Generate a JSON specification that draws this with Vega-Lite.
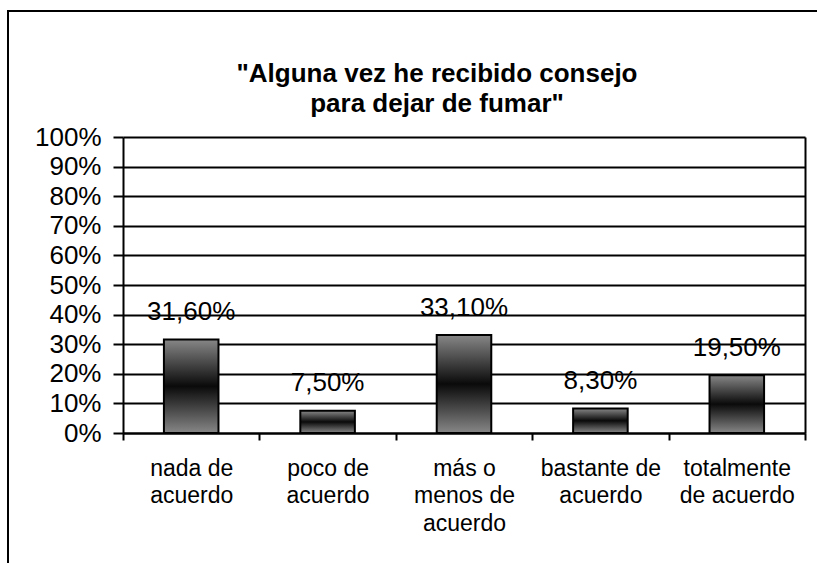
{
  "$schema": "https://vega.github.io/schema/vega-lite/v6.json",
  "width": 812,
  "height": 556,
  "autosize": {"type": "none"},
  "padding": {"left": 8, "top": 11, "right": 0, "bottom": 0},
  "background": "white",
  "config": {
    "locale": {"number": {"decimal": ",", "thousands": ".", "grouping": [3], "currency": ["", " €"]}},
    "font": "Liberation Sans",
    "view": {"stroke": "black", "strokeWidth": 2},
    "axis": {
      "domainColor": "black", "domainWidth": 2,
      "tickColor": "black", "tickWidth": 2,
      "labelColor": "black", "labelFont": "Liberation Sans"
    }
  },
  "title": {
    "text": ["\"Alguna vez he recibido consejo", "para dejar de fumar\""],
    "font": "Liberation Sans", "fontSize": 26, "fontWeight": "bold", "color": "black",
    "anchor": "middle", "frame": "group", "baseline": "top", "lineHeight": 30,
    "offset": 0, "dy": 106, "dx": 23
  },
  "data": {
    "values": [
      {"categoria": "nada de acuerdo", "valor": 0.316},
      {"categoria": "poco de acuerdo", "valor": 0.075},
      {"categoria": "más o menos de acuerdo", "valor": 0.331},
      {"categoria": "bastante de acuerdo", "valor": 0.083},
      {"categoria": "totalmente de acuerdo", "valor": 0.195}
    ]
  },
  "encoding": {
    "x": {
      "field": "categoria", "type": "nominal", "sort": null,
      "scale": {"range": [115, 797], "paddingInner": 0, "paddingOuter": 0},
      "axis": {
        "title": null, "orient": "bottom", "offset": -134,
        "tickBand": "extent", "tickSize": 7, "grid": false,
        "labelAngle": 0, "labelFontSize": 23, "labelLineHeight": 27.5,
        "labelPadding": 17, "labelBaseline": "top", "labelOverlap": false, "labelLimit": 300,
        "labelExpr": "!datum.value ? '' : datum.value == 'más o menos de acuerdo' ? ['más o', 'menos de', 'acuerdo'] : datum.value == 'totalmente de acuerdo' ? ['totalmente', 'de acuerdo'] : [replace(datum.value, ' acuerdo', ''), 'acuerdo']"
      }
    }
  },
  "layer": [
    {
      "mark": {
        "type": "bar", "width": {"band": 0.4},
        "fill": {
          "gradient": "linear", "x1": 0, "y1": 0, "x2": 0, "y2": 1,
          "stops": [
            {"offset": 0, "color": "#878787"},
            {"offset": 0.5, "color": "#0a0a0a"},
            {"offset": 1, "color": "#878787"}
          ]
        },
        "stroke": "black", "strokeWidth": 2
      },
      "encoding": {
        "y": {
          "field": "valor", "type": "quantitative",
          "scale": {"domain": [0, 1], "range": [422, 126], "nice": false, "zero": true},
          "axis": {
            "title": null, "orient": "left", "offset": -115,
            "values": [0, 0.1, 0.2, 0.3, 0.4, 0.5, 0.6, 0.7, 0.8, 0.9, 1],
            "format": ".0%", "labelFontSize": 26, "labelPadding": 12, "tickSize": 10,
            "grid": true, "gridColor": "black", "gridWidth": 2, "gridOpacity": 1,
            "labelFlush": false, "labelOverlap": false
          }
        }
      }
    },
    {
      "mark": {"type": "text", "dy": -19.5, "baseline": "alphabetic", "fontSize": 26, "font": "Liberation Sans", "color": "black"},
      "encoding": {
        "y": {
          "field": "valor", "type": "quantitative",
          "axis": {"title": null, "orient": "right", "offset": -15, "labels": false, "ticks": false, "grid": false, "domain": true}
        },
        "text": {"field": "valor", "type": "quantitative", "format": ".2%"}
      }
    }
  ],
  "resolve": {"axis": {"y": "independent"}}
}
